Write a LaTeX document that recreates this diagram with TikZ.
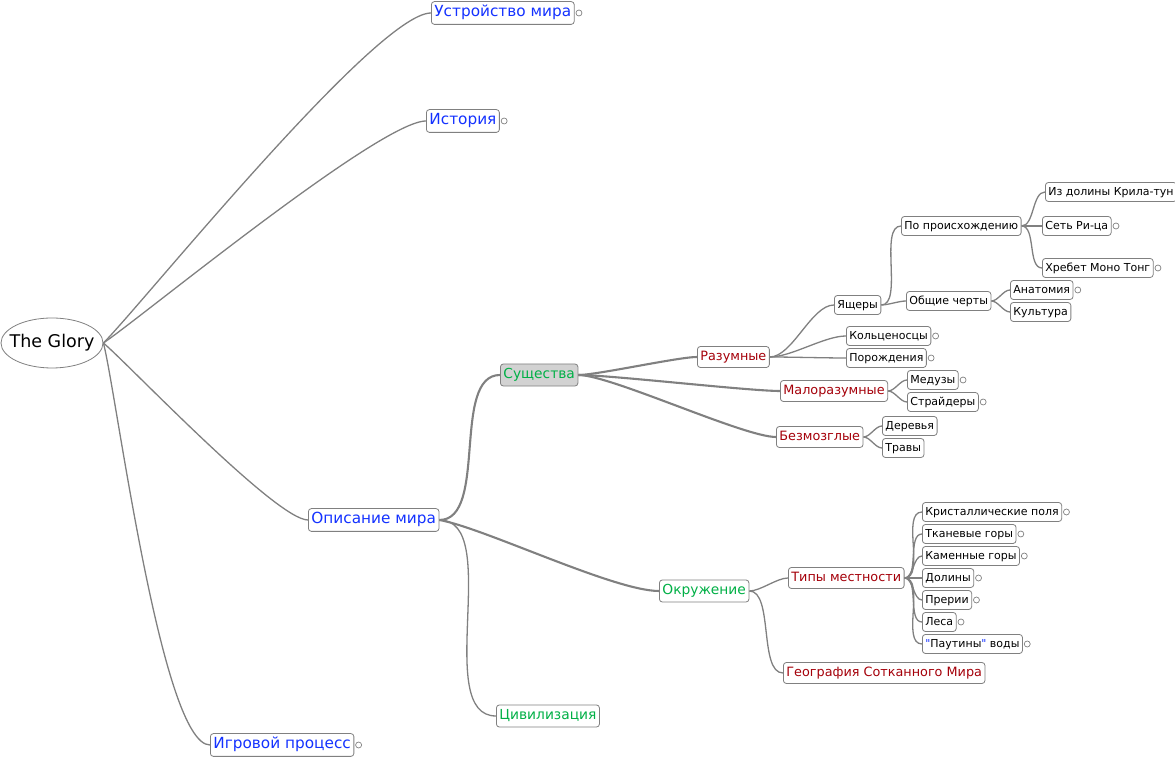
\documentclass[tikz,border=0pt]{standalone}
\usepackage{fontspec}
\setmainfont{DejaVu Sans}
\newfontfamily\qfont{DejaVu Sans}[Ligatures=TeXOff]
\usetikzlibrary{positioning}
\usetikzlibrary{shapes.geometric}
\definecolor{tblue}{RGB}{20,50,255}
\definecolor{tgreen}{RGB}{0,176,70}
\definecolor{tred}{RGB}{165,0,10}
\definecolor{brgray}{RGB}{128,128,128}
\newcommand{\fsmall}{\fontsize{11}{13}\selectfont}
\newcommand{\fmid}{\fontsize{12.8}{15}\selectfont}
\newcommand{\fgreen}{\fontsize{13.8}{16}\selectfont}
\newcommand{\fbig}{\fontsize{15.3}{18}\selectfont}
\newcommand{\froot}{\fontsize{17.5}{21}\selectfont}
\newcommand{\bq}{{\qfont\textcolor{tblue}{"}}}
\tikzset{
  topic/.style={draw=brgray, line width=0.8pt, rounded corners=3pt, fill=white, anchor=west, inner xsep=3pt},
  leaf/.style={topic, font=\fsmall, text height=8.8pt, text depth=2.6pt, inner ysep=3.8pt},
  redtopic/.style={topic, font=\fmid, text=tred, text height=10pt, text depth=3pt, inner ysep=4pt},
  greentopic/.style={topic, font=\fgreen, text=tgreen, text height=10.5pt, text depth=3.2pt, inner ysep=4.2pt},
  bluetopic/.style={topic, font=\fbig, text=tblue, text height=11pt, text depth=3.4pt, inner ysep=4.2pt},
  stub/.style={draw=brgray, line width=0.7pt, circle, inner sep=0pt, minimum size=6pt},
  branch/.style={draw=brgray, line width=1.3pt},
  trunk/.style={draw=brgray, line width=2.1pt},
}
\begin{document}
\begin{tikzpicture}[x=1pt, y=1pt]
  \useasboundingbox (0,0) rectangle (1175,757);%
  % root
  \node[ellipse, draw=brgray, line width=0.8pt, fill=white, minimum width=102pt, minimum height=50pt, inner xsep=-12pt, inner ysep=0pt, font=\froot] (glory) at (52,414) {The Glory};%
  % first level
  \node[bluetopic] (ustr) at (431,744) {Устройство мира};%
  \node[bluetopic] (ist) at (426,636) {История};%
  \node[bluetopic] (opis) at (308,237) {Описание мира};%
  \node[bluetopic] (igr) at (210,12) {Игровой процесс};%
  \node[stub, right=1pt of ustr] (ustr-o) {};%
  \node[stub, right=1pt of ist] (ist-o) {};%
  \node[stub, right=1pt of igr] (igr-o) {};%
  % Описание мира
  \node[greentopic, fill=gray!35] (sush) at (500,382) {Существа};%
  \node[greentopic] (okr) at (659,166) {Окружение};%
  \node[greentopic] (civ) at (496,41) {Цивилизация};%
  % Существа
  \node[redtopic] (raz) at (697,400) {Разумные};%
  \node[redtopic] (malo) at (780,366) {Малоразумные};%
  \node[redtopic] (bezm) at (776,320) {Безмозглые};%
  \node[leaf] (yash) at (834,452) {Ящеры};%
  \node[leaf] (kolc) at (846,421) {Кольценосцы};%
  \node[leaf] (poro) at (846,399) {Порождения};%
  \node[stub, right=1pt of kolc] (kolc-o) {};%
  \node[stub, right=1pt of poro] (poro-o) {};%
  \node[leaf] (proish) at (901,531) {По происхождению};%
  \node[leaf] (obsh) at (906,456) {Общие черты};%
  \node[leaf] (dolkr) at (1045,565) {Из долины Крила-тун};%
  \node[leaf] (set) at (1042,531) {Сеть Ри-ца};%
  \node[leaf] (hreb) at (1042,489) {Хребет Моно Тонг};%
  \node[stub, right=1pt of set] (set-o) {};%
  \node[stub, right=1pt of hreb] (hreb-o) {};%
  \node[leaf] (anat) at (1010,467) {Анатомия};%
  \node[leaf] (kult) at (1010,445) {Культура};%
  \node[stub, right=1pt of anat] (anat-o) {};%
  \node[leaf] (med) at (907,377) {Медузы};%
  \node[leaf] (str) at (907,355) {Страйдеры};%
  \node[stub, right=1pt of med] (med-o) {};%
  \node[stub, right=1pt of str] (str-o) {};%
  \node[leaf] (der) at (882,331) {Деревья};%
  \node[leaf] (trav) at (882,309) {Травы};%
  % Окружение
  \node[redtopic] (tipy) at (788,179) {Типы местности};%
  \node[redtopic] (geo) at (783,84) {География Сотканного Мира};%
  \node[leaf] (krist) at (922,245) {Кристаллические поля};%
  \node[leaf] (tkan) at (922,223) {Тканевые горы};%
  \node[leaf] (kam) at (922,201) {Каменные горы};%
  \node[leaf] (dol) at (922,179) {Долины};%
  \node[leaf] (prer) at (922,157) {Прерии};%
  \node[leaf] (les) at (922,135) {Леса};%
  \node[leaf] (paut) at (922,113) {\bq Паутины\bq{} воды};%
  \foreach \n in {krist,tkan,kam,dol,prer,les,paut}
    \node[stub, right=1pt of \n] (\n-o) {};%
  % connectors
  \draw[branch] (glory.east) to[out=45, in=180, looseness=0.3] (ustr.west);%
  \draw[branch] (glory.east) to[out=34, in=180, looseness=0.3] (ist.west);%
  \draw[branch] (glory.east) to[out=-40, in=180, looseness=0.3] (opis.west);%
  \draw[branch] (glory.east) to[out=-75, in=180, looseness=0.3] (igr.west);%
  \draw[trunk] (opis.east) to[out=0, in=180, looseness=0.8] (sush.west);%
  \draw[trunk] (opis.east) to[out=-10, in=180, looseness=0.5] (okr.west);%
  \draw[branch] (opis.east) to[out=0, in=180, looseness=0.8] (civ.west);%
  \foreach \n in {raz,malo,bezm}
    \draw[trunk] (sush.east) to[out=0, in=180, looseness=0.4] (\n.west);%
  \foreach \n in {yash,kolc,poro}
    \draw[branch] (raz.east) to[out=0, in=180, looseness=0.7] (\n.west);%
  \foreach \n in {proish,obsh}
    \draw[branch] (yash.east) to[out=0, in=180, looseness=0.7] (\n.west);%
  \foreach \n in {dolkr,set,hreb}
    \draw[branch] (proish.east) to[out=0, in=180, looseness=0.8] (\n.west);%
  \foreach \n in {anat,kult}
    \draw[branch] (obsh.east) to[out=0, in=180, looseness=0.8] (\n.west);%
  \foreach \n in {med,str}
    \draw[branch] (malo.east) to[out=0, in=180, looseness=0.8] (\n.west);%
  \foreach \n in {der,trav}
    \draw[branch] (bezm.east) to[out=0, in=180, looseness=0.8] (\n.west);%
  \foreach \n in {tipy,geo}
    \draw[branch] (okr.east) to[out=0, in=180, looseness=0.7] (\n.west);%
  \foreach \n in {krist,tkan,kam,dol,prer,les,paut}
    \draw[branch] (tipy.east) to[out=0, in=180, looseness=0.8] (\n.west);%
\end{tikzpicture}
\end{document}
